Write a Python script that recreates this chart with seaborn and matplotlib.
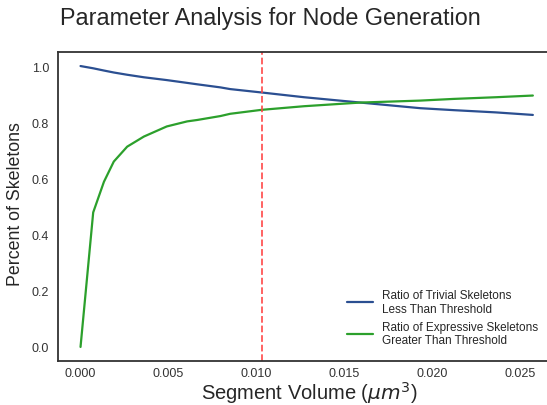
import seaborn as sns
import matplotlib
matplotlib.use('Agg')
import matplotlib.pyplot as plt
import pandas as pd

# data
seg_volume = [0.0, 0.00072, 0.00133, 0.00189, 0.00265, 0.0036, 0.0049, 0.00606,
              0.00663, 0.00795, 0.0085, 0.01027, 0.0127, 0.0159, 0.0193, 0.0212, 0.0236, 0.0257]
trivial = [1.0, 0.992, 0.984, 0.977, 0.969, 0.960, 0.950, 0.940,
           0.935, 0.924, 0.918, 0.906, 0.889, 0.870, 0.850, 0.843, 0.835, 0.826]
expressive = [0.0, 0.479, 0.588, 0.66, 0.713, 0.749, 0.785, 0.803,
              0.808, 0.822, 0.83, 0.844, 0.857, 0.870, 0.877, 0.883, 0.889, 0.895]
threshold = 0.0103

lbl_trivial = 'Ratio of Trivial Skeletons\nLess Than Threshold'
lbl_expr = 'Ratio of Expressive Skeletons\nGreater Than Threshold'

df = pd.DataFrame({'volume': seg_volume, lbl_trivial: trivial, lbl_expr: expressive})
df = df.melt(id_vars='volume', var_name='series', value_name='percent')

sns.set_style('white')
plt.rcParams['font.family'] = ['Liberation Sans', 'DejaVu Sans']
plt.rcParams['axes.edgecolor'] = '#333333'
plt.rcParams['axes.linewidth'] = 1.3

fig = plt.figure(figsize=(5.47, 4.06), dpi=100)
# axes runs past the right edge of the figure, like the reference
ax = fig.add_axes([58 / 547, 44 / 406, 512 / 547, 309 / 406])
sns.lineplot(data=df, x='volume', y='percent', hue='series',
             palette=['#2b4f91', '#2ca02c'], linewidth=1.6, ax=ax)
ax.axvline(threshold, color='#ff4444', linestyle='--', linewidth=1.3, alpha=0.9)

ax.set_xlim(-0.00128, 0.02781)
ax.set_ylim(-0.05, 1.05)
ax.set_xticks([0.0, 0.005, 0.010, 0.015, 0.020, 0.025])
ax.set_xticklabels(['0.000', '0.005', '0.010', '0.015', '0.020', '0.025'])
ax.set_yticks([0.0, 0.2, 0.4, 0.6, 0.8, 1.0])
ax.tick_params(labelsize=9, colors='#333333')
ax.tick_params(axis='x', pad=1)
ax.tick_params(axis='y', pad=3)
ax.set_xlabel('Segment Volume ($\\mu m^3$)', fontsize=14.5, color='#262626')
ax.set_ylabel('Percent of Skeletons', fontsize=12.8, color='#262626')
ax.xaxis.set_label_coords(0.492, -0.059)
ax.yaxis.set_label_coords(-0.066, 0.511)
ax.legend(loc='lower left', frameon=False, fontsize=8.5, title=None,
          bbox_to_anchor=(336 / 547, 48 / 406), bbox_transform=fig.transFigure,
          handlelength=2.2, labelspacing=0.5)
fig.suptitle('Parameter Analysis for Node Generation', fontsize=16.8, color='#262626',
             x=0.494, y=0.982)

fig.savefig('out.png', dpi=100)
